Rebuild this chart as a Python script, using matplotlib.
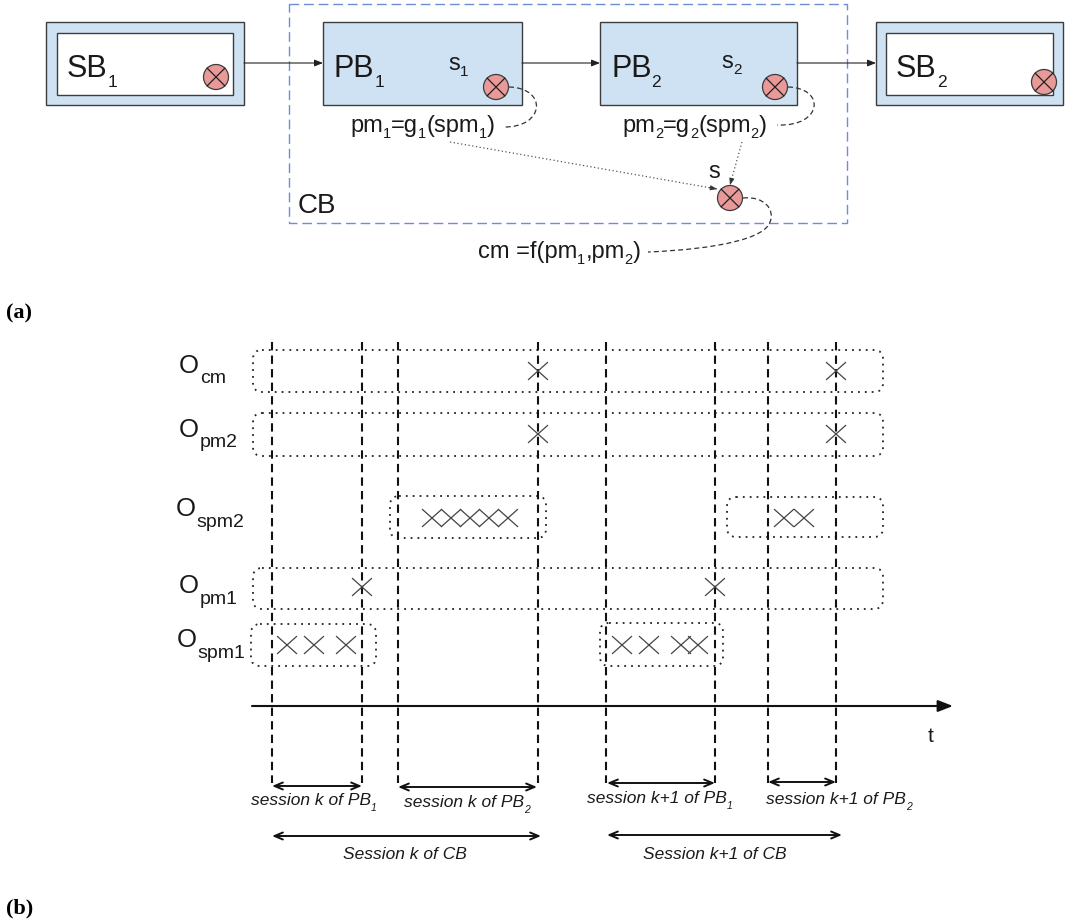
import matplotlib
matplotlib.use('Agg')
import matplotlib.pyplot as plt
from matplotlib.patches import Rectangle, Circle, FancyBboxPatch, PathPatch
from matplotlib.path import Path

plt.rcParams['font.family'] = ['Liberation Sans', 'DejaVu Sans']

# ---- part (a): blocks ----
blue = '#cfe2f3'
edge = '#3c3c3c'
red = '#ea9999'
ink = '#1a1a1a'

# boxes (x0, y0, x1, y1) in pixels
sb_boxes = [(46, 22, 244, 105), (876, 22, 1063, 105)]
sb_inner = [(57, 33, 233, 95), (886, 33, 1053, 95)]
pb_boxes = [(323, 22, 522, 105), (600, 22, 797, 105)]
# label pieces: (text, is_subscript)
sb_labels = [[('SB', 0), ('1', 1)], [('SB', 0), ('2', 1)]]
pb_labels = [[('PB', 0), ('1', 1)], [('PB', 0), ('2', 1)]]
s_labels = [[('s', 0), ('1', 1)], [('s', 0), ('2', 1)]]
pm_labels = [[('pm', 0), ('1', 1), ('=g', 0), ('1', 1), ('(spm', 0), ('1', 1), (')', 0)],
             [('pm', 0), ('2', 1), ('=g', 0), ('2', 1), ('(spm', 0), ('2', 1), (')', 0)]]
cm_label = [('cm =f(pm', 0), ('1', 1), (',pm', 0), ('2', 1), (')', 0)]
sensors = [(216, 77), (496, 87), (775, 87), (1044, 82), (730, 198)]

# ---- part (b): timeline ----
session_x = [272, 362, 398, 538, 606, 715, 768, 836]
row_names = ['cm', 'pm2', 'spm2', 'pm1', 'spm1']
row_O = [(179, 373), (179, 437), (176, 516), (179, 593), (177, 647)]
row_sub = [(200, 383), (200, 447), (196, 527), (200, 604), (197, 658)]
# dotted groups (x0, y0, x1, y1)
groups = [(253, 350, 883, 392), (253, 413, 883, 456),
          (390, 496, 546, 538), (727, 497, 883, 537),
          (253, 568, 883, 609),
          (251, 624, 376, 666), (600, 623, 723, 666)]
cross_x = [[538, 836], [538, 836], [432, 451, 470, 489, 508, 784, 804],
           [362, 715], [287, 314, 346, 622, 649, 681, 698]]
cross_y = [371, 434, 518, 587, 645]

pb_sessions = [(272, 362, 786), (398, 537, 787), (607, 715, 783), (768, 836, 782)]
pb_session_labels = [[('session k of PB', 0), ('1', 1)], [('session k of PB', 0), ('2', 1)],
                     [('session k+1 of PB', 0), ('1', 1)], [('session k+1 of PB', 0), ('2', 1)]]
pb_label_pos = [(251, 805), (404, 807), (587, 803), (766, 804)]
cb_sessions = [(272, 541, 836), (607, 842, 835)]
cb_session_labels = ['Session k of CB', 'Session k+1 of CB']
cb_label_x = [405, 715]

fig = plt.figure(figsize=(10.73, 9.22), dpi=100)
ax = fig.add_axes([0, 0, 1, 1])
ax.set_xlim(0, 1073)
ax.set_ylim(922, 0)
ax.axis('off')
renderer = fig.canvas.get_renderer()


def rich(x, y, parts, size, sub_size, drop, **kw):
    # draw text with subscripts piece by piece (1 data unit == 1 pixel)
    for s, sub in parts:
        t = ax.text(x, y + drop if sub else y, s, fontsize=sub_size if sub else size,
                    va='baseline', color=ink, **kw)
        x += t.get_window_extent(renderer).width
    return x


def box(b, fc, ec=edge, lw=1.0, **kw):
    x0, y0, x1, y1 = b
    ax.add_patch(Rectangle((x0, y0), x1 - x0, y1 - y0, fc=fc, ec=ec, lw=lw, **kw))


def sensor(x, y, r=12.5):
    ax.add_patch(Circle((x, y), r, fc=red, ec=edge, lw=0.9, zorder=5))
    d = r * 0.707
    ax.plot([x - d, x + d], [y - d, y + d], color='#222', lw=0.9, zorder=6)
    ax.plot([x - d, x + d], [y + d, y - d], color='#222', lw=0.9, zorder=6)


# CB dashed container
box((289, 4.5, 847, 223), 'none', ec='#6b8fd2', lw=1.0, linestyle=(0, (7, 3.5)))
ax.text(298, 213, 'CB', fontsize=20, va='baseline', color=ink)

for b, bi, lab in zip(sb_boxes, sb_inner, sb_labels):
    box(b, blue)
    box(bi, 'white')
    rich(bi[0] + 10, 77, lab, 22, 12.5, 10)
for b, lab in zip(pb_boxes, pb_labels):
    box(b, blue)
    rich(b[0] + 11, 77, lab, 22, 12.5, 10)
rich(448, 70, s_labels[0], 17, 11, 6)
rich(721, 68, s_labels[1], 17, 11, 6)
for x, y in sensors:
    sensor(x, y)

# arrows between blocks
for x0, x1 in [(244, 323), (522, 600), (797, 876)]:
    ax.annotate('', xy=(x1, 63), xytext=(x0, 63),
                arrowprops=dict(arrowstyle='-|>,head_length=0.5,head_width=0.2',
                                color='#222', lw=0.8, shrinkA=0, shrinkB=0))

rich(350, 132, pm_labels[0], 17, 10.5, 6)
rich(622, 132, pm_labels[1], 17, 10.5, 6)
ax.text(708, 178, 's', fontsize=17, va='baseline', color=ink)
rich(478, 258, cm_label, 17, 10.5, 6)


# dashed curves from sensors to formulas
def curve(verts, codes):
    ax.add_patch(PathPatch(Path(verts, codes), fc='none', ec='#333', lw=0.9,
                           linestyle=(0, (4, 2.5))))


C = Path.CURVE4
curve([(509, 87), (548, 88), (545, 128), (503, 127)], [Path.MOVETO, C, C, C])
curve([(788, 87), (826, 88), (823, 127), (777, 125)], [Path.MOVETO, C, C, C])
curve([(743, 198), (765, 196), (775, 210), (770, 222),
       (765, 238), (720, 249), (648, 252)],
      [Path.MOVETO, C, C, C, C, C, C])

# dotted arrows into s
for (x0, y0), (x1, y1) in [((450, 142), (717, 189)), ((742, 142), (730, 185))]:
    ax.plot([x0, x1], [y0, y1], color='#555', lw=0.9, linestyle=(0, (1, 2)))
    ax.annotate('', xy=(x1, y1), xytext=(x1 - (x1 - x0) * 0.03, y1 - (y1 - y0) * 0.03),
                arrowprops=dict(arrowstyle='-|>,head_length=0.4,head_width=0.15',
                                color='#333', lw=0.6, shrinkA=0, shrinkB=0))

ax.text(6, 318, '(a)', fontsize=16, fontweight='bold', family='Liberation Serif',
        va='baseline')

# ---- timeline ----
for x in session_x:
    ax.plot([x, x], [342, 783], color='#111', lw=1.5, linestyle=(0, (4, 2.5)))

for x0, y0, x1, y1 in groups:
    ax.add_patch(FancyBboxPatch((x0, y0), x1 - x0, y1 - y0,
                                boxstyle='round,pad=0,rounding_size=9',
                                fc='none', ec='#222', lw=1.3,
                                linestyle=(0, (1, 2.8))))

for xs, y in zip(cross_x, cross_y):
    for x in xs:
        ax.plot([x - 9.5, x + 9.5], [y - 8.5, y + 8.5], color='#444', lw=0.9)
        ax.plot([x - 9.5, x + 9.5], [y + 8.5, y - 8.5], color='#444', lw=0.9)

for name, (ox, oy), (sx, sy) in zip(row_names, row_O, row_sub):
    ax.text(ox, oy, 'O', fontsize=18.5, va='baseline', color=ink)
    ax.text(sx, sy, name, fontsize=14, va='baseline', color=ink)

ax.annotate('', xy=(953, 706), xytext=(252, 706),
            arrowprops=dict(arrowstyle='-|>,head_length=0.9,head_width=0.35',
                            color='#111', lw=1.5, shrinkA=0, shrinkB=0))
ax.text(928, 742, 't', fontsize=15, va='baseline', color=ink)

for (x0, x1, y), lab, (tx, ty) in zip(pb_sessions, pb_session_labels, pb_label_pos):
    ax.annotate('', xy=(x1, y), xytext=(x0, y),
                arrowprops=dict(arrowstyle='<->,head_length=0.6,head_width=0.25',
                                color='#111', lw=1.4, shrinkA=0, shrinkB=0))
    rich(tx, ty, lab, 12.5, 7.5, 6, style='italic')

for (x0, x1, y), lab, cx in zip(cb_sessions, cb_session_labels, cb_label_x):
    ax.annotate('', xy=(x1, y), xytext=(x0, y),
                arrowprops=dict(arrowstyle='<->,head_length=0.6,head_width=0.25',
                                color='#111', lw=1.4, shrinkA=0, shrinkB=0))
    ax.text(cx, 859, lab, fontsize=12.5, style='italic', va='baseline', ha='center',
            color=ink)

ax.text(6, 913, '(b)', fontsize=16, fontweight='bold', family='Liberation Serif',
        va='baseline')

fig.savefig('out.png', dpi=100)
